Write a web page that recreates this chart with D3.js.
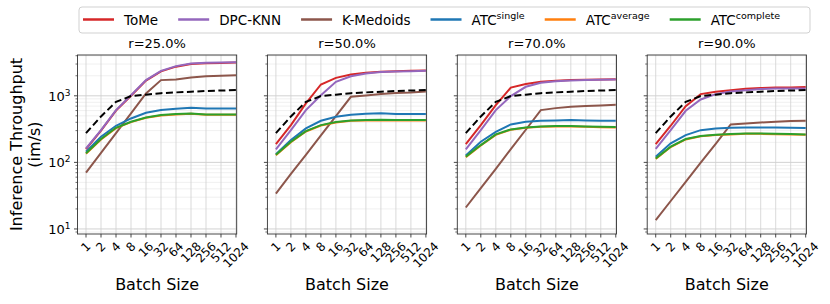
<!DOCTYPE html>
<html>
<head>
<meta charset="utf-8">
<script src="https://cdn.jsdelivr.net/npm/d3@7"></script>
<style>
  body { margin: 0; background: #fff; }
  text { font-family: "DejaVu Sans", sans-serif; fill: #000; }
</style>
</head>
<body>
<svg id="chart" width="830" height="304"></svg>
<script>
// data, one row per panel (r = 25, 50, 70, 90 %)
var batchSizes = [1, 2, 4, 8, 16, 32, 64, 128, 256, 512, 1024];
var panelTitles = ["r=25.0%", "r=50.0%", "r=70.0%", "r=90.0%"];

var tome = [
  [158, 300, 600, 1000, 1690, 2330, 2740, 3000, 3080, 3110, 3150],
  [188, 363, 767, 1480, 1860, 2090, 2210, 2290, 2340, 2370, 2400],
  [188, 363, 724, 1330, 1500, 1620, 1680, 1720, 1740, 1760, 1780],
  [188, 355, 700, 1060, 1150, 1215, 1275, 1305, 1330, 1335, 1350]
];
var dpcKnn = [
  [162, 305, 610, 1020, 1720, 2370, 2790, 3050, 3130, 3160, 3200],
  [157, 305, 610, 1020, 1620, 1970, 2160, 2270, 2320, 2345, 2370],
  [157, 305, 610, 990, 1365, 1570, 1660, 1700, 1720, 1740, 1760],
  [160, 305, 596, 880, 1060, 1160, 1215, 1260, 1290, 1290, 1290]
];
var kMedoids = [
  [70, 139, 275, 546, 1084, 1720, 1760, 1880, 1970, 2000, 2040],
  [34, 67, 130, 254, 495, 966, 1010, 1060, 1100, 1120, 1160],
  [21, 41, 80, 158, 309, 610, 653, 684, 700, 716, 733],
  [13.6, 26.3, 51, 99, 190, 372, 384, 398, 407, 418, 422]
];
var atcSingle = [
  [145, 243, 355, 457, 556, 610, 638, 661, 646, 646, 646],
  [133, 216, 324, 422, 484, 519, 537, 549, 531, 531, 531],
  [127, 204, 288, 372, 407, 422, 427, 432, 427, 422, 422],
  [122, 193, 257, 305, 324, 331, 335, 335, 335, 331, 327]
];
var atcAverage = [
  [135, 221, 327, 402, 467, 507, 525, 537, 519, 519, 519],
  [128, 201, 291, 358, 398, 421, 426, 431, 426, 426, 426],
  [120, 180, 259, 309, 330, 342, 346, 346, 342, 338, 334],
  [113, 170, 221, 246, 257, 262, 268, 268, 264, 262, 259]
];
var atcComplete = [
  [137, 224, 331, 407, 473, 513, 531, 543, 525, 525, 525],
  [130, 204, 295, 363, 403, 427, 432, 437, 432, 432, 432],
  [122, 182, 263, 313, 335, 347, 351, 351, 347, 343, 339],
  [114, 172, 224, 249, 260, 266, 272, 272, 268, 266, 263]
];
var baseline = [275, 490, 810, 990, 1040, 1095, 1125, 1150, 1180, 1200, 1220];

var series = [
  { name: "ToMe", sup: null, color: "#d62728", data: tome },
  { name: "DPC-KNN", sup: null, color: "#9467bd", data: dpcKnn },
  { name: "K-Medoids", sup: null, color: "#8c564b", data: kMedoids },
  { name: "ATC", sup: "single", color: "#1f77b4", data: atcSingle },
  { name: "ATC", sup: "average", color: "#ff7f0e", data: atcAverage },
  { name: "ATC", sup: "complete", color: "#2ca02c", data: atcComplete }
];

var svg = d3.select("#chart");
var panelW = 159.2, panelStep = 189.9, firstLeft = 77.5;
var plotTop = 55, plotBottom = 234;

var x = d3.scaleLog().base(2)
  .domain([Math.pow(2, -0.567), Math.pow(2, 10.047)])
  .range([0, panelW]);
var y = d3.scaleLog()
  .domain([8.4, 4100])
  .range([plotBottom, plotTop]);

var line = d3.line()
  .x(function(d, i) { return x(batchSizes[i]); })
  .y(function(d) { return y(d); });

// minor log ticks between decades
var minorVals = [];
[1, 10, 100, 1000].forEach(function(dec) {
  for (var k = 2; k <= 9; k++) {
    var v = k * dec;
    if (v > 8.4 && v < 4100) minorVals.push(v);
  }
});
var majorVals = [10, 100, 1000];

svg.append("defs").append("clipPath").attr("id", "clip")
  .append("rect").attr("x", 0).attr("y", plotTop).attr("width", panelW).attr("height", plotBottom - plotTop);

panelTitles.forEach(function(title, p) {
  var g = svg.append("g").attr("transform", "translate(" + (firstLeft + p * panelStep) + ",0)");

  // grid
  g.selectAll(".minor").data(minorVals).enter().append("line")
    .attr("x1", 0).attr("x2", panelW)
    .attr("y1", function(d) { return y(d); }).attr("y2", function(d) { return y(d); })
    .attr("stroke", "#ececec").attr("stroke-width", 0.8);
  g.selectAll(".hmaj").data(majorVals).enter().append("line")
    .attr("x1", 0).attr("x2", panelW)
    .attr("y1", function(d) { return y(d); }).attr("y2", function(d) { return y(d); })
    .attr("stroke", "#c8c8c8").attr("stroke-width", 0.8);
  g.selectAll(".vmaj").data(batchSizes).enter().append("line")
    .attr("y1", plotTop).attr("y2", plotBottom)
    .attr("x1", function(d) { return x(d); }).attr("x2", function(d) { return x(d); })
    .attr("stroke", "#cfcfcf").attr("stroke-width", 0.8);

  // lines
  var lines = g.append("g").attr("clip-path", "url(#clip)");
  series.forEach(function(s) {
    lines.append("path")
      .datum(s.data[p])
      .attr("d", line)
      .attr("fill", "none")
      .attr("stroke", s.color)
      .attr("stroke-width", 2);
  });
  lines.append("path")
    .datum(baseline)
    .attr("d", line)
    .attr("fill", "none")
    .attr("stroke", "#000")
    .attr("stroke-width", 2)
    .attr("stroke-dasharray", "7,3.5");

  // frame
  g.append("rect").attr("x", 0).attr("y", plotTop).attr("width", panelW).attr("height", plotBottom - plotTop)
    .attr("fill", "none").attr("stroke", "#333").attr("stroke-width", 0.9);

  // y ticks
  g.selectAll(".ytm").data(majorVals).enter().append("line")
    .attr("x1", -3.5).attr("x2", 0)
    .attr("y1", function(d) { return y(d); }).attr("y2", function(d) { return y(d); })
    .attr("stroke", "#333").attr("stroke-width", 0.9);
  g.selectAll(".ytn").data(minorVals).enter().append("line")
    .attr("x1", -2).attr("x2", 0)
    .attr("y1", function(d) { return y(d); }).attr("y2", function(d) { return y(d); })
    .attr("stroke", "#333").attr("stroke-width", 0.7);

  if (p === 0) {
    majorVals.forEach(function(v) {
      var t = g.append("text")
        .attr("x", -7).attr("y", y(v) + 5)
        .attr("text-anchor", "end")
        .style("font-size", "13px");
      t.append("tspan").text("10");
      t.append("tspan").attr("dy", -5).style("font-size", "9px").text(Math.round(Math.log10(v)));
    });
  }

  // x ticks and rotated labels
  g.selectAll(".xt").data(batchSizes).enter().append("line")
    .attr("x1", function(d) { return x(d); }).attr("x2", function(d) { return x(d); })
    .attr("y1", plotBottom).attr("y2", plotBottom + 3.5)
    .attr("stroke", "#333").attr("stroke-width", 0.9);

  batchSizes.forEach(function(b) {
    var t = g.append("text")
      .text(b)
      .attr("text-anchor", "middle")
      .attr("dominant-baseline", "central")
      .style("font-size", "12px");
    var len = t.node().getComputedTextLength();
    var half = (len + 9) * 0.7071 / 2;
    var cx = x(b), cy = plotBottom + 7 + half;
    t.attr("x", cx).attr("y", cy)
      .attr("transform", "rotate(-45," + cx + "," + cy + ")");
  });

  g.append("text")
    .attr("x", panelW / 2).attr("y", 48)
    .attr("text-anchor", "middle")
    .style("font-size", "13px")
    .text(title);

  g.append("text")
    .attr("x", panelW / 2).attr("y", 290)
    .attr("text-anchor", "middle")
    .style("font-size", "16px")
    .text("Batch Size");
});

// y axis label
var yl = svg.append("text")
  .attr("transform", "translate(22,144.5) rotate(-90)")
  .attr("text-anchor", "middle")
  .style("font-size", "16px");
yl.append("tspan").attr("x", 0).attr("dy", 0).text("Inference Throughput");
yl.append("tspan").attr("x", 0).attr("dy", 18).text("(im/s)");

// legend
var legend = svg.append("g");
legend.append("rect")
  .attr("x", 79).attr("y", 7).attr("width", 731).attr("height", 26).attr("rx", 3)
  .attr("fill", "#fff").attr("stroke", "#cccccc").attr("stroke-width", 0.9);

var lx = 83;
series.forEach(function(s) {
  legend.append("line")
    .attr("x1", lx).attr("x2", lx + 31)
    .attr("y1", 19.5).attr("y2", 19.5)
    .attr("stroke", s.color).attr("stroke-width", 2.5);
  var t = legend.append("text")
    .attr("x", lx + 41).attr("y", 24.5)
    .style("font-size", "13.5px");
  t.append("tspan").text(s.name);
  if (s.sup) t.append("tspan").attr("dy", -6).style("font-size", "9.5px").text(s.sup);
  lx += 41 + t.node().getComputedTextLength() + 20;
});
</script>
</body>
</html>
